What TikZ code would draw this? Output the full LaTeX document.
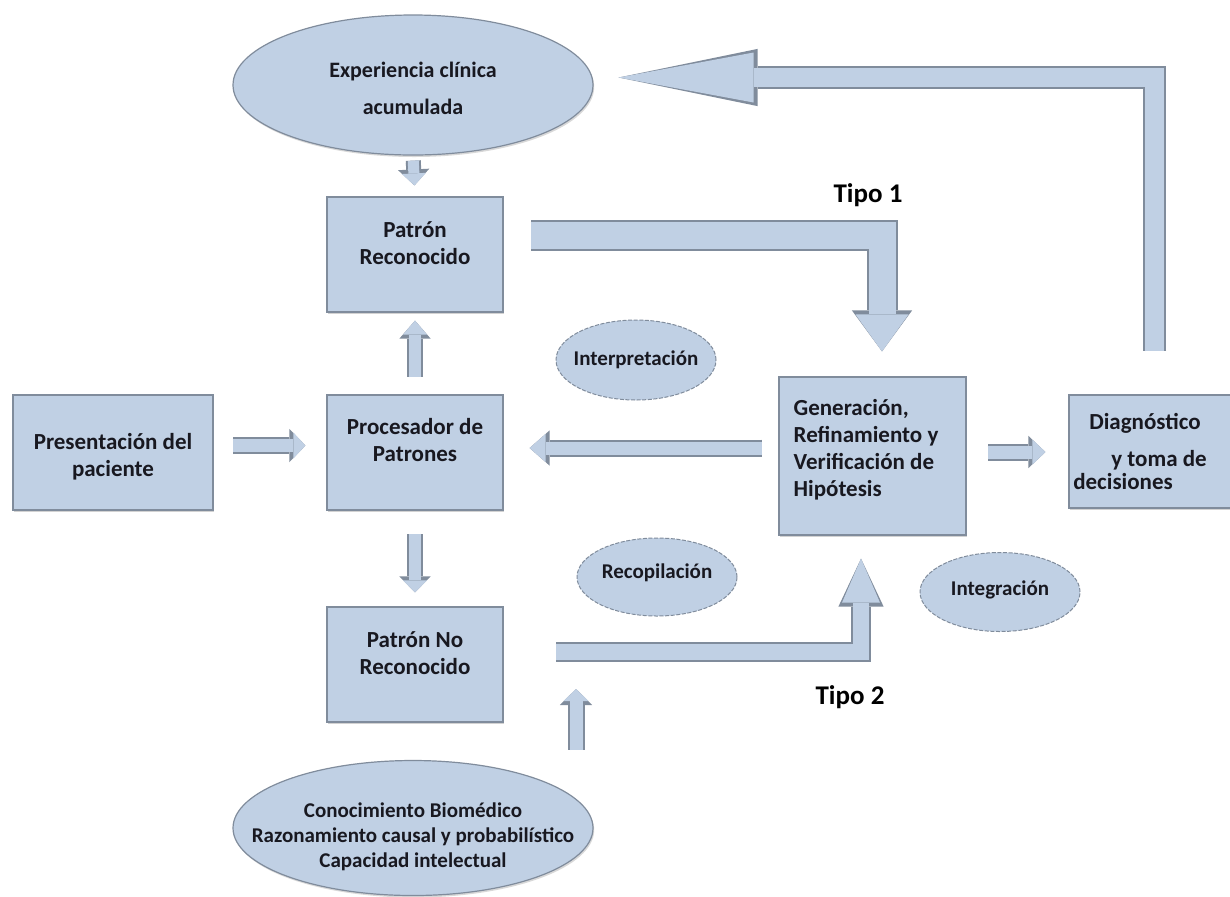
\documentclass[tikz,border=0pt]{standalone}
\usepackage{fontspec}
\setmainfont{Carlito}
\usetikzlibrary{shapes.geometric,arrows.meta,shadows}

\definecolor{boxfill}{RGB}{192,208,228}
\definecolor{edgegray}{RGB}{128,140,156}
\definecolor{inkc}{RGB}{24,24,32}

\tikzset{
  procbox/.style={rectangle, draw=edgegray, fill=boxfill, line width=0.6pt, inner sep=0pt,
    drop shadow={shadow xshift=0.6pt, shadow yshift=-1pt, opacity=0.35}},
  bigoval/.style={ellipse, draw=edgegray, fill=boxfill, line width=0.6pt, inner sep=0pt,
    minimum width=180pt, drop shadow={shadow xshift=0.6pt, shadow yshift=-1pt, opacity=0.3}},
  smalloval/.style={ellipse, draw=edgegray, fill=boxfill, line width=0.5pt,
    dash pattern=on 2pt off 0.8pt, inner sep=0pt, minimum width=80pt, minimum height=40pt},
  txt/.style={font=\bfseries\fontsize{11.5}{13.5}\selectfont, text=inkc, align=center},
  ovaltxt/.style={font=\bfseries\fontsize{10.5}{12.5}\selectfont, text=inkc, align=center},
  tipo/.style={font=\bfseries\fontsize{13.5}{16}\selectfont, text=black},
  % block arrow: shaft width, head length, head width (pt)
  fatarrow/.code n args={3}{%
    \pgfmathsetmacro\outw{#1+2}%
    \pgfmathsetmacro\outl{#2+2}%
    \pgfmathsetmacro\outh{#3+3.6}%
    \edef\fatopts{draw=boxfill, line width=#1pt, line join=miter,
      -{Triangle[length=#2pt, width=#3pt, line width=0pt]},
      preaction={draw=edgegray, line width=\outw pt,
        {Bar[width=\outw pt, line width=1.6pt]}-{Triangle[length=\outl pt, width=\outh pt, line width=0pt]}}}%
    \expandafter\tikzset\expandafter{\fatopts}%
  }
}

\begin{document}
\begin{tikzpicture}[x=0.5pt, y=-0.5pt]
\path[use as bounding box, fill=white] (0,0) rectangle (1230,896);

\node[bigoval, minimum height=70pt, label={[txt, font=\bfseries\fontsize{11}{13.5}\selectfont, yshift=-1.75pt]center:{Experiencia clínica\\[5pt]acumulada}}] (experiencia) at (413,85) {};
\node[procbox, minimum width=88pt, minimum height=57.5pt, label={[txt, yshift=5.5pt]center:{Patrón\\Reconocido}}] (reconocido) at (415,254.5) {};
\node[procbox, minimum width=100pt, minimum height=57.5pt, label={[txt, yshift=-2pt]center:{Presentación del\\paciente}}] (presentacion) at (113,452.5) {};
\node[procbox, minimum width=88pt, minimum height=57.5pt, label={[txt, yshift=6pt]center:{Procesador de\\Patrones}}] (procesador) at (415,452.5) {};
\node[procbox, minimum width=88pt, minimum height=57.5pt, label={[txt, yshift=5.5pt]center:{Patrón No\\Reconocido}}] (noreconocido) at (415,664.5) {};
\node[procbox, minimum width=93.5pt, minimum height=79pt, label={[txt, align=left, xshift=-3.25pt, yshift=3pt]center:{Generación,\\Refinamiento y\\Verificación de\\Hipótesis}}] (generacion) at (872.5,456) {};
\node[procbox, minimum width=85.5pt, minimum height=56.5pt, label={[txt, align=left, xshift=-7.25pt]center:{\hspace*{8pt}Diagnóstico\\[5pt]\hspace*{19pt}y toma de\\[-2pt]decisiones}}] (diagnostico) at (1154.5,451.5) {};
\node[bigoval, minimum height=67.5pt, label={[ovaltxt, yshift=-4.5pt]center:{Conocimiento Biomédico\\Razonamiento causal y probabilístico\\Capacidad intelectual}}] (conocimiento) at (413,828) {};

\node[smalloval, label={[ovaltxt]center:Interpretación}] (interpretacion) at (636,360) {};
\node[smalloval, minimum height=39pt, label={[ovaltxt, yshift=2pt]center:Recopilación}] (recopilacion) at (657,577) {};
\node[smalloval, minimum height=39.5pt, label={[ovaltxt, yshift=1pt]center:Integración}] (integracion) at (1000,592) {};

\node[tipo] (tipouno) at (868,195) {Tipo 1};
\node[tipo] (tipodos) at (850,697) {Tipo 2};

\coordinate (hypl) at ([yshift=4pt]generacion.west);
\coordinate (hypr) at ([yshift=2pt]generacion.east);
\coordinate (kfoot) at (576,750);
\coordinate (ktip) at (576,689);

\draw[fatarrow={5.5}{6}{12}, shorten <=2.5pt, shorten >=5.5pt] (experiencia.south) -- (reconocido.north);
\draw[fatarrow={6}{7}{12}, shorten <=8.5pt, shorten >=4pt] (procesador.north) -- (reconocido.south);
\draw[fatarrow={6}{6}{12}, shorten <=11.5pt, shorten >=7pt] (procesador.south) -- (noreconocido.north);
\draw[fatarrow={6.5}{6}{13}, shorten <=9.5pt, shorten >=10.5pt] ([yshift=3.5pt]presentacion.east) -- ([yshift=3.5pt]procesador.west);
\draw[fatarrow={6.5}{8}{14}, shorten <=8pt, shorten >=13pt] (hypl) -- (hypl -| procesador.east);
\draw[fatarrow={6.5}{6.5}{12.5}, shorten <=10.5pt, shorten >=11.5pt] (hypr) -- (hypr -| diagnostico.west);
\draw[fatarrow={13.5}{18.5}{26.5}, shorten <=13.5pt, shorten >=12.5pt] ([yshift=9.75pt]reconocido.east) -| ([xshift=4.75pt]generacion.north);
\draw[fatarrow={8}{22}{19}, shorten <=26pt, shorten >=11.5pt] ([yshift=6.5pt]noreconocido.east) -| ([xshift=-5.75pt]generacion.south);
\draw[fatarrow={9.5}{67.5}{25}, shorten <=21.5pt, shorten >=12.5pt] (diagnostico.north) |- ([yshift=3.75pt]experiencia.east);
\draw[fatarrow={6.5}{6}{12.5}] (kfoot) -- (ktip);
\end{tikzpicture}
\end{document}
